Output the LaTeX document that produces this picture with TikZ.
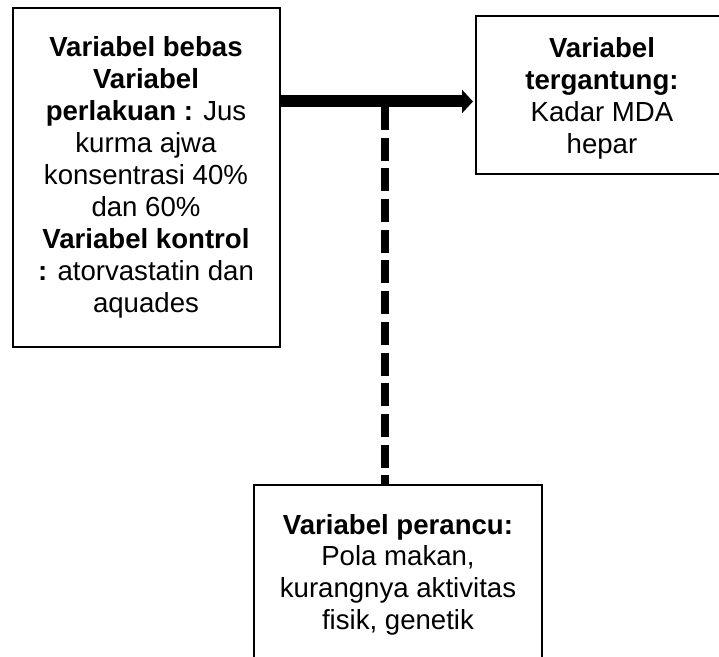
\documentclass[tikz,border=0pt]{standalone}
\usepackage{fontspec}
\setmainfont{Liberation Sans}
\usepackage{tikz}
\usetikzlibrary{arrows.meta,positioning,calc}
\tikzset{
  varbox/.style={draw,line width=1pt,fill=white,align=center,%
    font=\fontsize{13.8pt}{16pt}\selectfont,inner sep=0pt},
  flow/.style={-{Triangle[length=5.5pt,width=11.5pt]},line width=6pt,shorten >=1pt},
  confound/.style={line width=4pt,dash pattern=on 11.5pt off 3.85pt,dash phase=12.6pt},
}
% extra room above the first line
\newcommand{\topgap}[1]{\rule{0pt}{#1}}

\begin{document}
\begin{tikzpicture}[x=0.5pt,y=-0.5pt]
\useasboundingbox[fill=white] (0,0) rectangle (719,657);
\clip (0,0) rectangle (719,657);
\node[varbox,minimum width=133.5pt,minimum height=169.5pt] (bebas) at (146,177.5)
  {\textbf{Variabel bebas}\\\textbf{Variabel}\\\textbf{perlakuan :} Jus\\kurma ajwa\\%
   konsentrasi 40\%\\dan 60\%\\\textbf{Variabel kontrol}\\\textbf{:} atorvastatin dan\\aquades};
\node[varbox,minimum width=126pt,minimum height=79pt] (tergantung) at (602,95)
  {\topgap{13pt}\textbf{Variabel}\\\textbf{tergantung:}\\Kadar MDA\\hepar};
\node[varbox,minimum width=144pt,minimum height=89.7pt,%
  font=\fontsize{13.8pt}{15.85pt}\selectfont] (perancu) at (398,574.7)
  {\textbf{Variabel perancu:}\\Pola makan,\\kurangnya aktivitas\\fisik, genetik};
\coordinate (jct) at (385,101.5);
% confounder link, drawn under the main arrow
\draw[confound] (jct) -- (perancu.north -| jct);
\draw[flow] (bebas.east |- jct) -- (tergantung.west |- jct);
\end{tikzpicture}
\end{document}
